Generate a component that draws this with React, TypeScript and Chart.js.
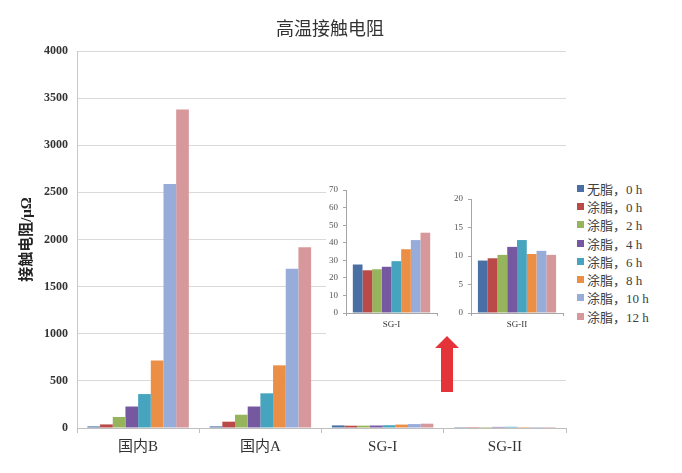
import React, { useEffect, useRef } from "react";
import { Chart, registerables } from "chart.js";

Chart.register(...registerables);

const categories = ["国内B", "国内A", "SG-I", "SG-II"];
const seriesLabels = ["无脂，0 h", "涂脂，0 h", "涂脂，2 h", "涂脂，4 h", "涂脂，6 h", "涂脂，8 h", "涂脂，10 h", "涂脂，12 h"];
const seriesColors = ["#4a6fa4", "#b94a48", "#96b45b", "#7658a0", "#47a4bf", "#ec8f46", "#97acd9", "#d6989b"];

// values per series, for each category
const guoneiB = [17, 38, 117, 228, 360, 717, 2590, 3380];
const guoneiA = [17, 67, 141, 228, 368, 665, 1690, 1917];
const sgI = [27.6, 24.3, 24.9, 26.3, 29.5, 36.3, 41.5, 45.7];
const sgII = [9.2, 9.6, 10.2, 11.6, 12.8, 10.35, 10.9, 10.2];

const mainTicks = { min: 0, max: 4000, step: 500 };
const inset1Ticks = { min: 0, max: 70, step: 10 };
const inset2Ticks = { min: 0, max: 20, step: 5 };

const SERIF = '"Liberation Serif", "Times New Roman", "Noto Sans CJK SC", serif';

function MainChart() {
  const ref = useRef<HTMLCanvasElement>(null);
  useEffect(() => {
    const datasets = seriesLabels.map((label, i) => ({
      label,
      data: [guoneiB[i], guoneiA[i], sgI[i], sgII[i]],
      backgroundColor: seriesColors[i],
      borderWidth: 0,
      categoryPercentage: 0.83,
      barPercentage: 1,
    }));
    const chart = new Chart(ref.current!, {
      type: "bar",
      data: { labels: categories, datasets },
      options: {
        animation: false,
        responsive: false,
        layout: { padding: { left: 0, top: 51, right: 116, bottom: 0 } },
        plugins: { legend: { display: false }, tooltip: { enabled: false } },
        scales: {
          x: {
            afterFit: (s: any) => { s.height = 45; },
            grid: { display: true, drawOnChartArea: false, drawTicks: true, tickLength: 5, offset: true, color: "#bfbfbf" },
            border: { color: "#bfbfbf" },
            ticks: { color: "#333", padding: 5, font: { family: SERIF, size: 15 } },
          },
          y: {
            min: mainTicks.min,
            max: mainTicks.max,
            afterFit: (s: any) => { s.width = 77; },
            ticks: {
              stepSize: mainTicks.step,
              color: "#333",
              padding: 9,
              font: { family: SERIF, size: 12, weight: "bold" },
              callback: (v: any) => String(v),
            },
            grid: { color: "#d9d9d9", drawTicks: false },
            border: { color: "#c8c8c8" },
            title: {
              display: true,
              text: "接触电阻/μΩ",
              color: "#222",
              padding: { top: 18, bottom: 0 },
              font: { family: SERIF, size: 15, weight: "bold" },
            },
          },
        },
      },
    });
    return () => chart.destroy();
  }, []);
  return <canvas ref={ref} width={682} height={473} style={{ position: "absolute", left: 0, top: 0 }} />;
}

function InsetChart(props: { values: number[]; label: string; ticks: { min: number; max: number; step: number }; left: number; pad: { left: number; top: number; right: number } }) {
  const ref = useRef<HTMLCanvasElement>(null);
  useEffect(() => {
    const datasets = seriesLabels.map((label, i) => ({
      label,
      data: [props.values[i]],
      backgroundColor: seriesColors[i],
      borderWidth: 0,
      categoryPercentage: 0.85,
      barPercentage: 1,
    }));
    const chart = new Chart(ref.current!, {
      type: "bar",
      data: { labels: [props.label], datasets },
      options: {
        animation: false,
        responsive: false,
        layout: { padding: { left: 0, top: props.pad.top, right: props.pad.right, bottom: 0 } },
        plugins: { legend: { display: false }, tooltip: { enabled: false } },
        scales: {
          x: {
            afterFit: (s: any) => { s.height = 25; },
            grid: { display: true, drawOnChartArea: false, drawTicks: true, tickLength: 3, offset: true, color: "#a6a6a6" },
            border: { color: "#a6a6a6" },
            ticks: { color: "#333", padding: 3, font: { family: SERIF, size: 9 } },
          },
          y: {
            min: props.ticks.min,
            max: props.ticks.max,
            afterFit: (s: any) => { s.width = props.pad.left; },
            ticks: { stepSize: props.ticks.step, color: "#555", padding: 5, font: { family: SERIF, size: 9 } },
            grid: { display: true, drawOnChartArea: false, drawTicks: true, tickLength: 3, color: "#a6a6a6" },
            border: { color: "#a6a6a6" },
          },
        },
      },
    });
    return () => chart.destroy();
  }, []);
  return <canvas ref={ref} width={120} height={160} style={{ position: "absolute", left: props.left, top: 0 }} />;
}

export default function App() {
  return (
    <div style={{ position: "absolute", left: 0, top: 0, width: 682, height: 473, background: "#fff", overflow: "hidden" }}>
      <MainChart />
      <div
        style={{
          position: "absolute",
          left: 150,
          top: 15,
          width: 360,
          textAlign: "center",
          fontFamily: '"Noto Sans CJK SC", sans-serif',
          fontSize: 18,
          color: "#333",
          lineHeight: "24px",
        }}
      >
        高温接触电阻
      </div>
      <div style={{ position: "absolute", left: 326, top: 178, width: 356, height: 162, background: "#fff" }}>
        <InsetChart values={sgI} label="SG-I" ticks={inset1Ticks} left={0} pad={{ left: 20, top: 12, right: 9 }} />
        <InsetChart values={sgII} label="SG-II" ticks={inset2Ticks} left={124} pad={{ left: 21, top: 21, right: 7 }} />
        <div style={{ position: "absolute", left: 251, top: 1 }}>
          {seriesLabels.map((l, i) => (
            <div key={l} style={{ display: "flex", alignItems: "center", height: 18.3, fontFamily: SERIF, fontSize: 13, color: "#404040", whiteSpace: "nowrap" }}>
              <span style={{ display: "inline-block", width: 7, height: 7, background: seriesColors[i], marginRight: 3 }} />
              {l}
            </div>
          ))}
        </div>
      </div>
      <svg width={682} height={473} style={{ position: "absolute", left: 0, top: 0, pointerEvents: "none" }}>
        <polygon points="447,336 459,348 453,348 453,392 441,392 441,348 435,348" fill="#e5333a" />
      </svg>
    </div>
  );
}
